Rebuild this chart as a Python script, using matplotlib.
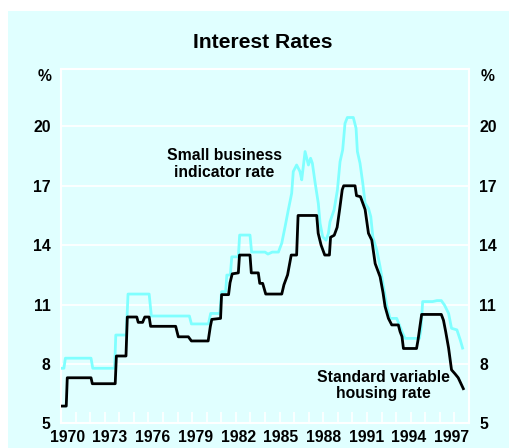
import matplotlib
matplotlib.use("Agg")
import matplotlib.pyplot as plt
import numpy as np

plt.rcParams['font.family'] = ['Liberation Sans', 'DejaVu Sans']
plt.rcParams['font.weight'] = 'bold'

title = "Interest Rates"
housing_label = "Standard variable\nhousing rate"
business_label = "Small business\nindicator rate"

housing_t = [1970.0, 1970.36, 1970.43, 1972.06, 1972.15, 1973.72, 1973.8, 1974.46, 1974.55,
             1975.2, 1975.3, 1975.6, 1975.75, 1976.05, 1976.15, 1977.87, 1978.05, 1978.74,
             1978.95, 1980.1, 1980.25, 1980.35, 1980.95, 1981.02, 1981.5, 1981.6, 1981.75,
             1982.17, 1982.25, 1982.97, 1983.06, 1983.54, 1983.64, 1983.84, 1984.05, 1985.15,
             1985.3, 1985.55, 1985.8, 1986.17, 1986.27, 1987.55, 1987.65, 1987.85, 1988.1,
             1988.42, 1988.5, 1988.75, 1988.95, 1989.13, 1989.3, 1989.4, 1990.18, 1990.28,
             1990.55, 1990.87, 1991.1, 1991.33, 1991.56, 1991.9, 1992.1, 1992.24, 1992.47,
             1992.7, 1993.15, 1993.27, 1993.4, 1993.5, 1994.4, 1994.5, 1994.75, 1996.1,
             1996.25, 1996.4, 1996.6, 1996.8, 1997.04, 1997.26, 1997.61]
housing_v = [5.87, 5.87, 7.3, 7.3, 7.0, 7.0, 8.4, 8.4, 10.37,
             10.37, 10.1, 10.1, 10.37, 10.37, 9.9, 9.9, 9.37, 9.37,
             9.16, 9.16, 9.9, 10.25, 10.3, 11.5, 11.5, 12.1, 12.55,
             12.6, 13.5, 13.5, 12.6, 12.6, 12.07, 12.07, 11.53, 11.53,
             12.0, 12.5, 13.5, 13.5, 15.5, 15.5, 14.6, 14.0, 13.5,
             13.5, 14.4, 14.5, 14.9, 15.85, 16.8, 17.0, 17.0, 16.5,
             16.45, 15.8, 14.6, 14.25, 13.07, 12.4, 11.6, 10.9, 10.3,
             9.97, 9.97, 9.63, 9.38, 8.78, 8.78, 9.2, 10.5, 10.5,
             10.2, 9.63, 8.8, 7.7, 7.5, 7.3, 6.75]

business_t = [1970.0, 1970.2, 1970.3, 1972.06, 1972.18, 1973.68, 1973.76, 1974.48, 1974.6,
              1976.05, 1976.2, 1978.81, 1978.95, 1980.12, 1980.27, 1980.9, 1981.02, 1981.3,
              1981.38, 1981.62, 1981.72, 1982.17, 1982.26, 1982.97, 1983.08, 1984.0, 1984.2,
              1984.5, 1984.92, 1985.15, 1985.38, 1985.6, 1985.83, 1985.94, 1986.17, 1986.4,
              1986.52, 1986.75, 1986.98, 1987.13, 1987.25, 1987.43, 1987.66, 1987.78, 1987.96,
              1988.19, 1988.35, 1988.46, 1988.74, 1988.97, 1989.15, 1989.33, 1989.49, 1989.65,
              1990.06, 1990.25, 1990.34, 1990.52, 1990.71, 1990.87, 1991.1, 1991.26, 1991.4,
              1991.67, 1991.9, 1992.13, 1992.35, 1992.58, 1993.04, 1993.22, 1993.4, 1993.61,
              1994.6, 1994.7, 1994.82, 1995.5, 1995.8, 1996.1, 1996.32, 1996.6, 1996.8,
              1997.17, 1997.4, 1997.56]
business_v = [7.78, 7.78, 8.29, 8.29, 7.78, 7.78, 9.46, 9.46, 11.53,
              11.53, 10.42, 10.42, 10.02, 10.02, 10.55, 10.55, 11.65, 11.65,
              12.49, 12.49, 13.41, 13.41, 14.51, 14.51, 13.65, 13.65, 13.55,
              13.65, 13.65, 14.1, 14.94, 15.78, 16.62, 17.72, 18.05, 17.72,
              17.3, 18.73, 18.05, 18.39, 18.14, 17.2, 16.1, 15.1, 14.42,
              14.25, 14.59, 15.18, 15.78, 16.79, 18.22, 18.81, 20.15, 20.45,
              20.45, 19.9, 18.73, 18.14, 17.13, 16.12, 15.86, 15.44, 14.42,
              13.75, 12.9, 11.9, 10.97, 10.3, 10.3, 9.97, 9.63, 9.29,
              9.29, 9.72, 11.15, 11.15, 11.2, 11.2, 10.97, 10.55, 9.8,
              9.72, 9.21, 8.8]

y_ticks = [5, 8, 11, 14, 17, 20]
x_labels = ["1970", "1973", "1976", "1979", "1982", "1985", "1988", "1991", "1994", "1997"]

bg = '#E0FFFF'
cyan = '#80FFFF'

fig = plt.figure(figsize=(5.10, 4.48), dpi=100)
fig.patch.set_facecolor('white')
fig.patches.append(plt.Rectangle((8/510, 0), 1 - 8/510, 1 - 11/448,
                                 transform=fig.transFigure, facecolor=bg,
                                 edgecolor='none', zorder=-5))

ax = fig.add_axes([61/510, 1 - 423.3/448, 408/510, (423.3 - 69)/448])
ax.set_zorder(2)
ax.set_facecolor(bg)
ax.set_xlim(1970, 1998)
ax.set_ylim(5, 22.9)

for s in ax.spines.values():
    s.set_color('white')
    s.set_linewidth(1.5)

for y in y_ticks[1:]:
    ax.axhline(y, color='white', lw=1.3, zorder=1)

ax.plot(business_t, business_v, color=cyan, lw=2.0, zorder=3)
ax.plot(housing_t, housing_v, color='black', lw=2.0, zorder=4)

ax.set_yticks(y_ticks)
ax.set_yticklabels([str(v) for v in y_ticks])
ax.tick_params(axis='y', length=0, labelsize=11.3, pad=7.5,
               left=True, right=True, labelleft=True, labelright=True)
for lab in ax.get_yticklabels():
    lab.set_fontweight('bold')

label_pos = 1970.44 + np.arange(len(x_labels)) * 2.93
ax.set_xticks(label_pos)
ax.set_xticklabels(x_labels)
ax.set_xticks(np.arange(1971, 1998), minor=True)
ax.tick_params(axis='x', which='major', length=0, labelsize=11.3, pad=5)
ax.tick_params(axis='x', which='minor', direction='in', length=8, width=1.2,
               color='white')
for lab in ax.get_xticklabels():
    lab.set_fontweight('bold')

fig.text(263/510, 1 - 43/448, title, ha='center', va='center',
         fontsize=15.2, fontweight='bold')
fig.text(45/510, 1 - 76/448, '%', ha='center', va='center',
         fontsize=11.3, fontweight='bold')
fig.text(488/510, 1 - 76/448, '%', ha='center', va='center',
         fontsize=11.3, fontweight='bold')

ax.text(1981.2, 18.1, business_label, ha='center', va='center',
        fontsize=11.3, fontweight='bold', linespacing=1.12)
ax.text(1992.15, 6.9, housing_label, ha='center', va='center',
        fontsize=11.3, fontweight='bold', linespacing=1.12)

fig.savefig('out.png', dpi=100, facecolor='white')
